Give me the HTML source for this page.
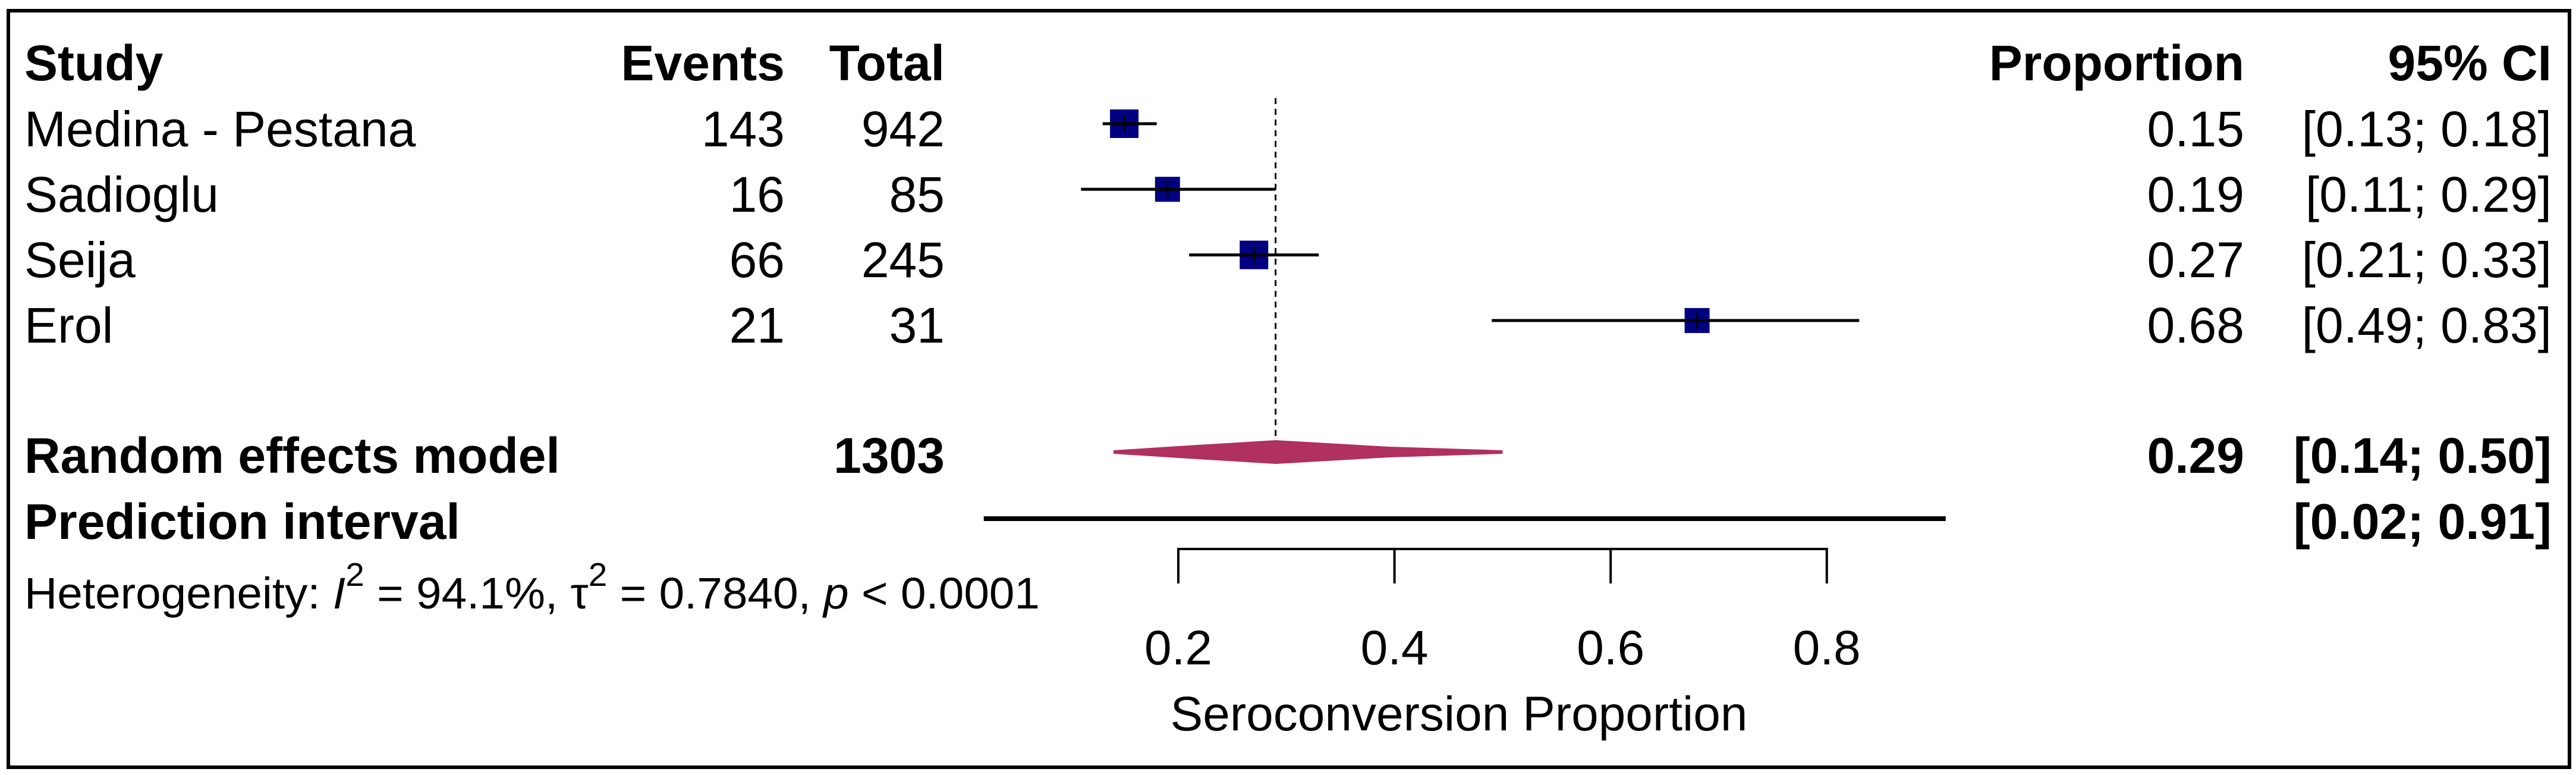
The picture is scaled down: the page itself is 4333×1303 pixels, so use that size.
<!DOCTYPE html>
<html><head><meta charset="utf-8"><style>
html,body{margin:0;padding:0;background:#fff;}
svg{display:block;font-family:"Liberation Sans",Arial,sans-serif;}
</style></head><body>
<svg id="chart" width="4333" height="1303" viewBox="0 0 4333 1303" xmlns="http://www.w3.org/2000/svg">
<rect x="14" y="18" width="4308" height="1272" fill="none" stroke="#000" stroke-width="6"/>
<g id="texts" font-size="84" fill="#000">
  <g font-weight="bold">
    <text x="41" y="135">Study</text>
    <text x="1320" y="135" text-anchor="end">Events</text>
    <text x="1589" y="135" text-anchor="end">Total</text>
    <text x="3775" y="135" text-anchor="end">Proportion</text>
    <text x="4292" y="135" text-anchor="end">95% CI</text>
  </g>
  <g font-weight="bold">
    <text x="41" y="795">Random effects model</text>
    <text x="1589" y="795" text-anchor="end">1303</text>
    <text x="3775" y="795" text-anchor="end">0.29</text>
    <text x="4292" y="795" text-anchor="end">[0.14; 0.50]</text>
    <text x="41" y="906">Prediction interval</text>
    <text x="4292" y="906" text-anchor="end">[0.02; 0.91]</text>
  </g>
  <text x="41" y="1023" font-size="74" textLength="1708" lengthAdjust="spacingAndGlyphs">Heterogeneity: <tspan font-style="italic">I</tspan><tspan dy="-38" font-size="55">2</tspan><tspan dy="38"> = 94.1%, τ</tspan><tspan dy="-38" font-size="55">2</tspan><tspan dy="38"> = 0.7840, </tspan><tspan font-style="italic">p</tspan> &lt; 0.0001</text>
  <text x="2454" y="1228" font-size="82" text-anchor="middle">Seroconversion Proportion</text>
</g>
<g id="plot"></g>
</svg>
<script>
const studies = ["Medina - Pestana","Sadioglu","Seija","Erol"];
const events = [143,16,66,21];
const totals = [942,85,245,31];
const props = [0.15,0.19,0.27,0.68];
const lowers = [0.13,0.11,0.21,0.49];
const uppers = [0.18,0.29,0.33,0.83];
const weights = [48,42,48,42];
const pooled = [0.29,0.14,0.50];
const predInt = [0.02,0.91];
const ticks = [0.2,0.4,0.6,0.8];
const tickLabels = ["0.2","0.4","0.6","0.8"];

const NS = "http://www.w3.org/2000/svg";
const plot = document.getElementById('plot');
const xs = p => 1982 + (p - 0.2) * 1818;
const rowY = i => 208 + i * 110.3;
const textY = i => 246 + i * 110;
function mk(tag, attrs, parent){
  const e = document.createElementNS(NS, tag);
  for (const k in attrs) e.setAttribute(k, attrs[k]);
  (parent||plot).appendChild(e);
  return e;
}
const fmt = v => v.toFixed(2);
studies.forEach((s,i)=>{
  const ty = textY(i);
  let t = mk('text',{x:41,y:ty,'font-size':84}); t.textContent = s;
  
  
  t = mk('text',{x:1320,y:ty,'font-size':84,'text-anchor':'end'}); t.textContent = events[i];
  
  
  t = mk('text',{x:1589,y:ty,'font-size':84,'text-anchor':'end'}); t.textContent = totals[i];
  
  
  t = mk('text',{x:3775,y:ty,'font-size':84,'text-anchor':'end'}); t.textContent = fmt(props[i]);
  
  
  t = mk('text',{x:4292,y:ty,'font-size':84,'text-anchor':'end'}); t.textContent = '['+fmt(lowers[i])+'; '+fmt(uppers[i])+']';
  
  
  const y = rowY(i), w = weights[i];
  const sq = mk('rect',{x:xs(props[i])-w/2,y:y-w/2,width:w,height:w,fill:'#000080'});
  
  
  const ln = mk('line',{x1:xs(lowers[i]),x2:xs(uppers[i]),y1:y,y2:y,stroke:'#000','stroke-width':5});
  
  
  const tk = mk('line',{x1:xs(props[i]),x2:xs(props[i]),y1:y-14,y2:y+14,stroke:'#000','stroke-width':3});
  
  
});
const dl = mk('line',{x1:xs(pooled[0]),x2:xs(pooled[0]),y1:165,y2:750,stroke:'#000','stroke-width':3,'stroke-dasharray':'10,8'});


const dy = 760;
const L = xs(pooled[1]), C = xs(pooled[0]), R = xs(pooled[2]);
const dm = mk('polygon',{points:`${L},${dy-3} ${L+(C-L)*0.4},${dy-10} ${C},${dy-20} ${C+(R-C)*0.5},${dy-9} ${R},${dy-3} ${R},${dy+3} ${C+(R-C)*0.5},${dy+9} ${C},${dy+20} ${L+(C-L)*0.4},${dy+10} ${L},${dy+3}`,fill:'#B03060'});


const pl = mk('line',{x1:xs(predInt[0]),x2:xs(predInt[1]),y1:872,y2:872,stroke:'#000','stroke-width':8});


const ax = mk('line',{x1:xs(ticks[0]),x2:xs(ticks[ticks.length-1]),y1:923,y2:923,stroke:'#000','stroke-width':4});


ticks.forEach((v,i)=>{
  const t = mk('line',{x1:xs(v),x2:xs(v),y1:921,y2:981,stroke:'#000','stroke-width':4});
  
  
  const l = mk('text',{x:xs(v),y:1117,'font-size':82,'text-anchor':'middle'});
  l.textContent = tickLabels[i];
  
  
});
</script>
</body></html>
